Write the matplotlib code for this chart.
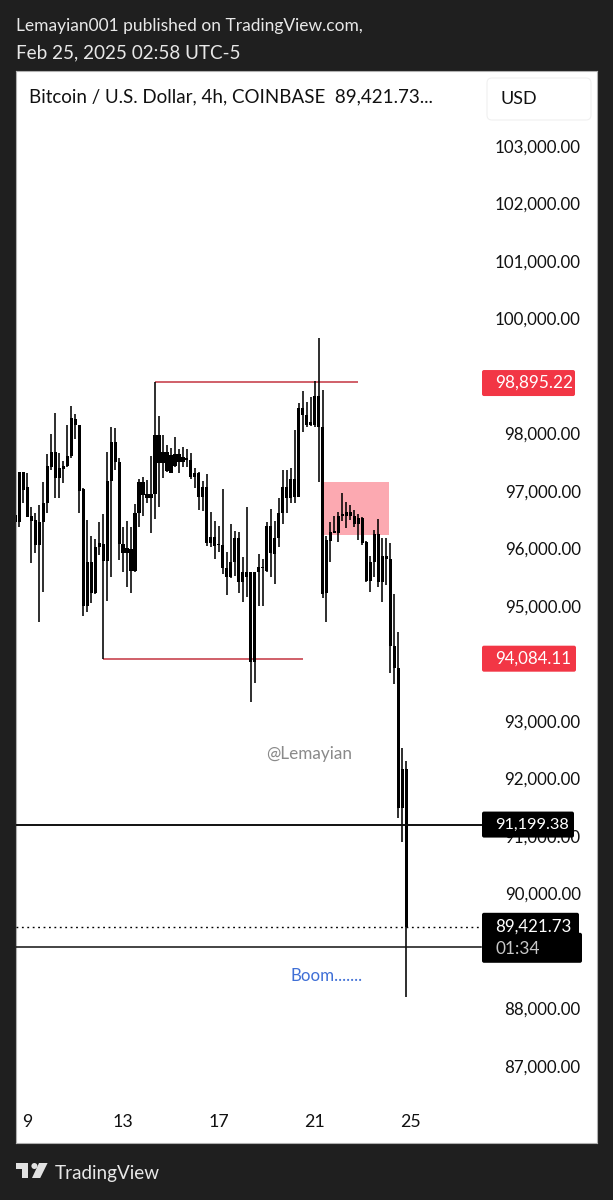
import matplotlib
matplotlib.use("Agg")
import matplotlib.pyplot as plt
from matplotlib.patches import FancyBboxPatch, Polygon, Circle, Rectangle

# 4h BTC/USD candles, oldest first
opens = [96583, 96467, 97336, 97075, 96565, 96496, 96061, 96467, 96797, 97423,
         97673, 97220, 97383, 97435, 97609, 98258, 98142, 97035, 95000, 95760,
         95232, 96032, 96078, 95783, 97174, 97852, 97510, 96073, 95928, 95992,
         95615, 96612, 97151, 96942, 96873, 96942, 97974, 97493, 97673, 97319,
         97644, 97510, 97586, 97539, 97539, 97238, 97319, 96902, 97064, 96101,
         96194, 96055, 96055, 95667, 95510, 95771, 96177, 95423, 95597, 95597,
         94032, 95597, 95684, 95615, 96391, 95899, 96177, 96612, 97064, 96873,
         97209, 96902, 98449, 98322, 98148, 98148, 98652, 98119, 95220, 96136,
         96304, 96275, 96565, 96641, 96571, 96565, 96420, 96525, 96107, 95435,
         95759, 96252, 95423, 95870, 95823, 94310, 93917, 91493, 92160]
highs = [96757, 97336, 97336, 97307, 96728, 96612, 96757, 97151, 97644, 97991,
         98351, 97655, 97528, 98148, 98478, 98339, 98148, 97046, 96496, 96223,
         96160, 96461, 96600, 97684, 98107, 98096, 97568, 96368, 96478, 96380,
         96774, 97209, 97238, 97191, 97609, 98895.22, 98304, 97974, 97800, 97742,
         97945, 97725, 97760, 97725, 97667, 97394, 97331, 97180, 97290, 96629,
         96478, 96391, 97035, 95945, 96420, 96310, 96293, 95847, 96716, 95597,
         95597, 95904, 95818, 96467, 96687, 96478, 96873, 97365, 97365, 97394,
         98061, 98536, 98745, 98542, 98641, 98913, 99655, 98757, 96223, 96461,
         96571, 96629, 96971, 96815, 96757, 96670, 96600, 96542, 96136, 95870,
         96322, 96507, 96177, 96177, 96102, 95204, 94543, 92537, 92310]
lows = [96380, 96380, 96786, 96554, 95742, 95916, 94728, 95249, 96612, 97365,
        96873, 96873, 97145, 97412, 97568, 97899, 96612, 94832, 94901, 95046,
        95209, 95887, 94084.11, 95093, 95499, 97365, 95800, 95597, 95336, 95220,
        95597, 96368, 96571, 96797, 96264, 96507, 96728, 97220, 97336, 97307,
        97423, 97307, 97412, 97423, 97203, 97058, 96670, 96658, 96044, 96032,
        95812, 95945, 95557, 95191, 95481, 95528, 95232, 95064, 95162, 93325,
        93667, 95000, 95000, 95586, 95499, 95383, 96032, 96420, 96623, 96797,
        96797, 96890, 98032, 98107, 98131, 98119, 97162, 95133, 94716, 95771,
        96275, 96119, 96484, 96351, 96496, 96380, 96148, 96061, 95423, 95238,
        95510, 95336, 95064, 95365, 93830, 93644, 91314, 90890, 88195]
closes = [96467, 97336, 97017, 96554, 96484, 96061, 96467, 96797, 97435, 97673,
          97220, 97394, 97435, 97609, 98275, 98142, 97006, 95000, 95760, 95232,
          96032, 96090, 95783, 97174, 97852, 97510, 96073, 95928, 96003, 95615,
          96623, 97151, 96931, 96873, 96942, 97974, 97493, 97673, 97354, 97626,
          97435, 97644, 97510, 97568, 97238, 97319, 96902, 97064, 96101, 96194,
          96044, 96078, 95655, 95510, 95771, 96177, 95423, 95597, 95510, 94032,
          95597, 95673, 95655, 96391, 95928, 96177, 96612, 97064, 96873, 97209,
          96902, 98449, 98322, 98148, 98206, 98652, 98119, 95209, 96148, 96293,
          96275, 96565, 96594, 96565, 96641, 96420, 96525, 96090, 95435, 95759,
          96252, 95423, 95870, 95823, 94310, 93917, 91493, 92160, 89421.73]

# round levels sitting right behind a price tag are left off
price_ticks = [87000, 88000, 90000, 91000, 92000, 93000, 95000, 96000,
               97000, 98000, 100000, 101000, 102000, 103000]
day_ticks = [3, 27, 51, 75, 99]
day_labels = ["9", "13", "17", "21", "25"]

swing_high = 98895.22
swing_low = 94084.11
support_level = 91199.38
last_price = 89421.73
lower_level = 89070
zone_top = 97162
zone_bottom = 96235

BG = "#1f1f1f"
RED = "#f23645"
FONT = "Lato"
plt.rcParams["font.family"] = [FONT, "DejaVu Sans"]

W, H = 613, 1200
fig = plt.figure(figsize=(W / 100, H / 100), dpi=100, facecolor=BG)

# panel edges in pixels
left, right, top, bottom = 16.4, 596.5, 71, 1143
ax = fig.add_axes([left / W, 1 - bottom / H, (right - left) / W, (bottom - top) / H])
ax.set_facecolor("white")
ax.set_xlim(0.25, 145.7)
ax.set_ylim(85662, 104304)
ymin, ymax = ax.get_ylim()


def price_y(price):  # price -> page pixel row
    return top + (ymax - price) / (ymax - ymin) * (bottom - top)


for s in ax.spines.values():
    s.set_color("#b0b0b0")
    s.set_linewidth(0.8)

ax.yaxis.tick_right()
ax.set_yticks(price_ticks)
ax.set_yticklabels([f"{p:,.2f}" for p in price_ticks], ha="right", fontsize=12.2, color="#111111")
ax.tick_params(axis="y", length=0, pad=-11.4)
ax.set_xticks(day_ticks)
ax.set_xticklabels(day_labels, fontsize=12.8, color="#111111")
ax.tick_params(axis="x", length=0, pad=-21)

# supply zone sits under the candles
ax.add_patch(Rectangle((76.6, zone_bottom), 17.1, zone_top - zone_bottom,
                       facecolor="#fca9b1", edgecolor="none", zorder=1))

ax.plot([35, 86], [swing_high, swing_high], color="#c8444f", lw=1.2, zorder=2, solid_capstyle="butt")
ax.plot([22, 72], [swing_low, swing_low], color="#c8444f", lw=1.2, zorder=2, solid_capstyle="butt")

idx = list(range(len(opens)))
ax.vlines(idx, lows, highs, color="black", lw=1.15, zorder=3)
body_low = [min(o, c) for o, c in zip(opens, closes)]
body_size = [abs(o - c) for o, c in zip(opens, closes)]
ax.bar(idx, body_size, bottom=body_low, width=0.8, color="black", linewidth=0, zorder=3)

ax.axhline(support_level, xmax=(480.7 - left) / (right - left), color="#111111", lw=1.4, zorder=4)
ax.axhline(lower_level, xmax=(480.7 - left) / (right - left), color="#111111", lw=1.1, zorder=4)
ax.plot([0.25, 116.3], [last_price, last_price], color="black", lw=1.0, ls=(0, (1.3, 2.6)), zorder=4)

# everything outside the price scale goes on a full page overlay in pixels
page = fig.add_axes([0, 0, 1, 1], facecolor="none")
page.set_xlim(0, W)
page.set_ylim(H, 0)
page.axis("off")


def tag(x0, x1, y0, y1, color):
    page.add_patch(FancyBboxPatch((x0 + 2, y0 + 2), x1 - x0 - 4, y1 - y0 - 4,
                                  boxstyle="round,pad=2,rounding_size=2",
                                  facecolor=color, edgecolor="none"))


# header / footer
page.text(16, 26, "Lemayian001 published on TradingView.com,", color="#e8e8e8", fontsize=12.55, va="center")
page.text(16, 53, "Feb 25, 2025 02:58 UTC-5", color="#e8e8e8", fontsize=13.6, va="center")
page.text(29, 97, "Bitcoin / U.S. Dollar, 4h, COINBASE  89,421.73...", color="#111111", fontsize=13.5, va="center")
page.add_patch(FancyBboxPatch((489, 80), 100, 38, boxstyle="round,pad=2,rounding_size=5",
                              facecolor="white", edgecolor="#f0f0f0", lw=0.8))
page.text(501, 99, "USD", color="#111111", fontsize=13, va="center")

# price tags
y = price_y(swing_high)
tag(482, 575, y - 12, y + 14, RED)
page.text(495, y + 0.5, f"{swing_high:,.2f}", color="white", fontsize=12.4, va="center")
y = price_y(swing_low)
tag(482, 576, y - 13, y + 13, RED)
page.text(495, y, f"{swing_low:,.2f}", color="white", fontsize=12.2, va="center")
y = price_y(support_level)
tag(482, 574, y - 13, y + 13, "black")
page.text(495, y, f"{support_level:,.2f}", color="white", fontsize=11.8, va="center")
y = price_y(last_price)
tag(482, 579, y - 14, y + 12, "black")
tag(482, 582, y + 6, y + 36, "black")
page.text(495, y, f"{last_price:,.2f}", color="white", fontsize=12.2, va="center")
page.text(495, y + 22, "01:34", color="#c8c8c8", fontsize=12.4, va="center")

page.text(266, 754, "@Lemayian", color="#8a8a8a", fontsize=12.3, va="center")
page.text(290, 976, "Boom.......", color="#3f6fd6", fontsize=12.2, va="center")

# TradingView mark
logo = "#e2e2e2"
page.add_patch(Polygon([(16.4, 1163), (28, 1163), (28, 1178), (21.5, 1178), (21.5, 1169), (16.4, 1169)],
                       facecolor=logo, edgecolor="none"))
page.add_patch(Circle((34.4, 1166), 3, facecolor=logo, edgecolor="none"))
page.add_patch(Polygon([(39, 1163), (47.6, 1163), (40.2, 1178), (32, 1178)], facecolor=logo, edgecolor="none"))
page.text(55, 1173, "TradingView", color="#e8e8e8", fontsize=13.6, va="center")

fig.savefig("out.png", dpi=100, facecolor=BG)
